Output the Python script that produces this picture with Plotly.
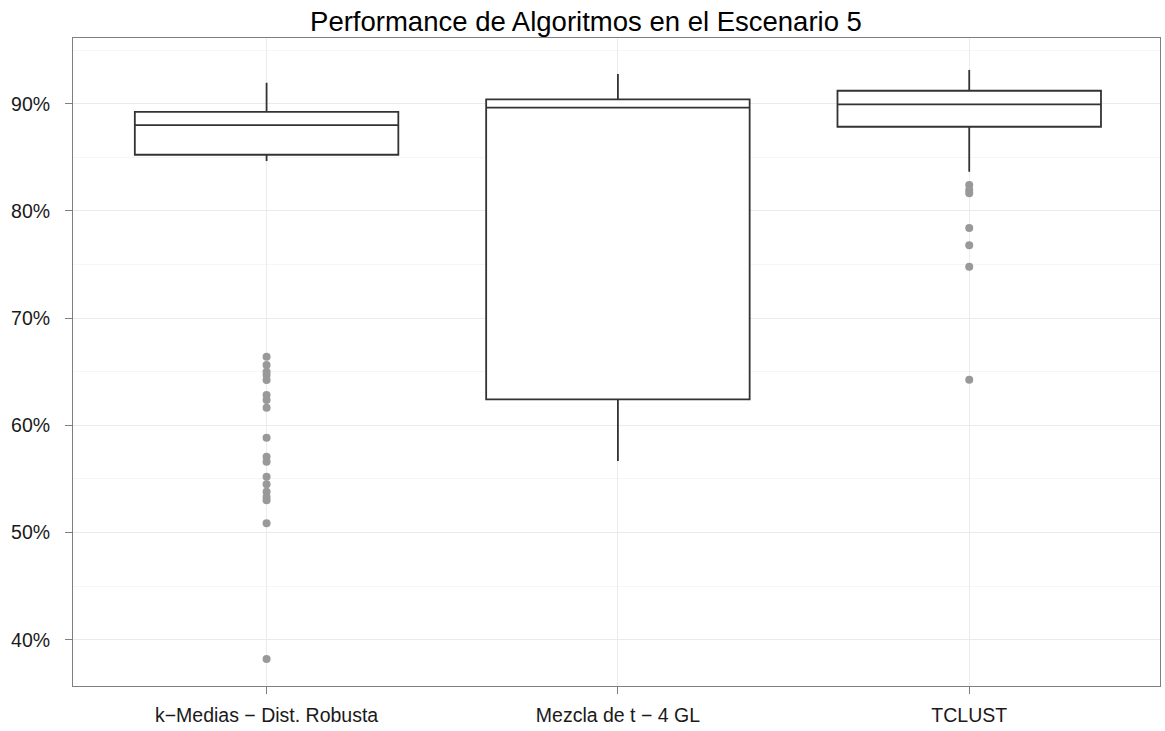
import plotly.graph_objects as go

# Algorithms compared in scenario 5
categorias = ["k\u2212Medias \u2212 Dist. Robusta", "Mezcla de t \u2212 4 GL", "TCLUST"]

# Box summaries (proportion of correct classification)
q1 = [0.8524, 0.6242, 0.8785]
mediana = [0.8801, 0.8963, 0.8994]
q3 = [0.8923, 0.9041, 0.9121]
bigote_inf = [0.8465, 0.5667, 0.8366]
bigote_sup = [0.9196, 0.9277, 0.9314]

# Outlying runs per algorithm
atipicos_kmedias = [0.6640, 0.6563, 0.6500, 0.6469, 0.6422, 0.6283, 0.6236, 0.6164,
                    0.5884, 0.5707, 0.5660, 0.5520, 0.5450, 0.5380, 0.5330, 0.5300,
                    0.5086, 0.3820]
atipicos_mezcla = []
atipicos_tclust = [0.8242, 0.8195, 0.8164, 0.7840, 0.7679, 0.7480, 0.6425]

fig = go.Figure()

fig.add_trace(go.Box(
    x=categorias,
    q1=q1, median=mediana, q3=q3,
    lowerfence=bigote_inf, upperfence=bigote_sup,
    boxpoints=False,
    width=0.75,
    whiskerwidth=0,
    fillcolor="white",
    line=dict(color="#333333", width=1.8),
    hoverinfo="skip",
    showlegend=False,
))

atipicos = [atipicos_kmedias, atipicos_mezcla, atipicos_tclust]
xs, ys = [], []
for cat, vals in zip(categorias, atipicos):
    xs += [cat] * len(vals)
    ys += vals

fig.add_trace(go.Scatter(
    x=xs, y=ys, mode="markers",
    marker=dict(color="#999999", size=8, line=dict(width=0)),
    hoverinfo="skip", showlegend=False,
))

fig.update_layout(
    width=1165, height=731,
    margin=dict(l=73, r=5, t=38, b=45),
    paper_bgcolor="white", plot_bgcolor="white",
    font=dict(family="Liberation Sans, Arial, sans-serif", color="#1a1a1a", size=19),
    title=dict(text="Performance de Algoritmos en el Escenario 5",
               x=0.503, xref="container", xanchor="center",
               y=1 - 21 / 731, yref="container", yanchor="middle",
               font=dict(size=27.5, color="black")),
    showlegend=False,
)

fig.update_xaxes(
    type="category",
    categoryorder="array", categoryarray=categorias,
    range=[-0.551, 2.543],
    showgrid=True, gridcolor="#ebebeb", gridwidth=1,
    showline=True, mirror=True, linecolor="#7f7f7f", linewidth=1,
    ticks="outside", ticklen=7, tickcolor="#7f7f7f",
    tickfont=dict(size=19.5, color="#1a1a1a"),
    ticklabelstandoff=5,
    automargin=False,
    zeroline=False,
)

fig.update_yaxes(
    range=[0.3568, 0.9613],
    tickmode="array",
    tickvals=[0.4, 0.5, 0.6, 0.7, 0.8, 0.9],
    ticktext=["40%", "50%", "60%", "70%", "80%", "90%"],
    showgrid=True, gridcolor="#ebebeb", gridwidth=1,
    minor=dict(tickmode="array", tickvals=[0.35, 0.45, 0.55, 0.65, 0.75, 0.85, 0.95],
               showgrid=True, gridcolor="#f5f5f5", gridwidth=1, ticks=""),
    showline=True, mirror=True, linecolor="#7f7f7f", linewidth=1,
    ticks="outside", ticklen=7, tickcolor="#7f7f7f",
    tickfont=dict(size=19.5, color="#1a1a1a"),
    ticklabelstandoff=11,
    automargin=False,
    zeroline=False,
)

fig.write_html("out.html")
